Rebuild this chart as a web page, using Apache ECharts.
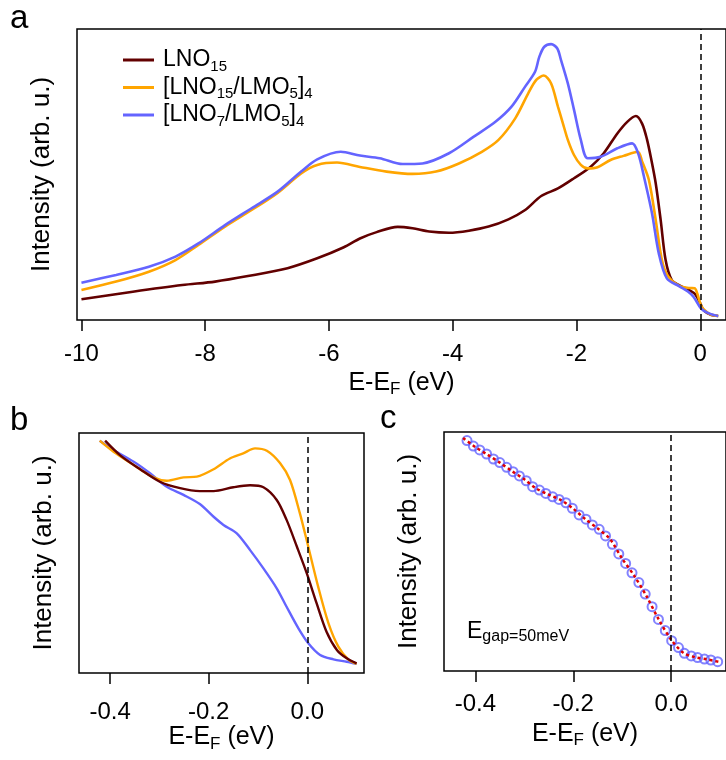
<!DOCTYPE html>
<html>
<head>
<meta charset="utf-8">
<script src="https://cdn.jsdelivr.net/npm/echarts@6.0.0/dist/echarts.min.js"></script>
<style>
html, body { margin: 0; padding: 0; background: #fff; }
#main { width: 726px; height: 760px; }
</style>
</head>
<body>
<div id="main"></div>
<script>
// panel a: wide energy range
var aLnoE = [-10.0, -9.17, -8.37, -7.84, -7.31, -6.67, -6.19, -5.76, -5.50, -5.23, -4.89, -4.65, -4.38, -4.06, -3.74, -3.42, -3.10, -2.83, -2.57, -2.30, -2.04, -1.77, -1.56, -1.34, -1.18, -1.04, -0.94, -0.86, -0.79, -0.72, -0.64, -0.56, -0.46, -0.33, -0.17, -0.08, 0.0, 0.06, 0.18, 0.29];
var aLnoI = [7.1, 9.7, 12.0, 13.2, 15.1, 17.8, 21.2, 25.0, 28.0, 30.2, 32.0, 31.5, 30.4, 30.0, 30.7, 32.1, 34.6, 37.8, 42.6, 45.2, 48.7, 52.7, 57.3, 64.1, 68.1, 70.1, 67.5, 62.0, 55.0, 47.0, 34.4, 20.6, 13.7, 11.8, 10.2, 8.8, 5.7, 3.2, 1.7, 1.4];

var aL15E = [-10.0, -9.44, -8.91, -8.48, -8.11, -7.68, -7.25, -6.83, -6.45, -6.19, -5.87, -5.50, -5.07, -4.65, -4.27, -3.90, -3.53, -3.26, -2.99, -2.78, -2.65, -2.53, -2.41, -2.30, -2.22, -2.14, -2.04, -1.93, -1.82, -1.66, -1.45, -1.24, -1.01, -0.94, -0.83, -0.72, -0.62, -0.52, -0.33, -0.17, -0.09, -0.05, 0.02, 0.10, 0.18, 0.29];
var aL15I = [10.3, 13.2, 16.6, 20.6, 25.8, 32.1, 37.8, 43.7, 50.4, 53.3, 54.1, 52.6, 51.0, 50.2, 51.0, 53.8, 57.8, 61.9, 69.3, 77.9, 82.5, 84.0, 81.3, 73.3, 67.6, 61.9, 56.7, 53.3, 52.1, 52.5, 55.0, 56.4, 57.8, 54.5, 48.1, 34.4, 20.6, 15.0, 11.6, 11.0, 10.9, 9.2, 4.6, 2.8, 1.8, 1.4];

var aL7E = [-10.0, -9.44, -8.91, -8.48, -8.11, -7.68, -7.25, -6.83, -6.45, -6.19, -5.81, -5.50, -5.18, -4.81, -4.49, -4.06, -3.66, -3.31, -3.05, -2.83, -2.67, -2.60, -2.52, -2.41, -2.31, -2.25, -2.14, -2.04, -1.93, -1.82, -1.61, -1.34, -1.10, -1.00, -0.91, -0.78, -0.67, -0.54, -0.33, -0.20, -0.11, 0.02, 0.15, 0.29];
var aL7I = [12.8, 15.5, 18.3, 21.8, 26.3, 32.6, 38.4, 44.1, 51.0, 55.2, 57.8, 56.5, 55.6, 53.6, 53.8, 57.3, 63.0, 68.1, 73.3, 80.2, 85.3, 90.5, 93.9, 94.8, 93.3, 89.3, 81.3, 72.2, 61.9, 55.6, 56.1, 59.0, 60.7, 57.0, 49.3, 36.7, 22.9, 14.3, 11.5, 9.8, 8.0, 3.8, 2.2, 1.4];

// panel b: near E_F
var bLnoE = [-0.410, -0.380, -0.339, -0.299, -0.258, -0.218, -0.190, -0.150, -0.116, -0.089, -0.062, -0.042, -0.021, -0.001, 0.019, 0.039, 0.060, 0.080, 0.100];
var bLnoI = [96.8, 90.8, 84.9, 79.7, 77.0, 75.8, 75.8, 77.4, 78.2, 77.4, 72.1, 63.8, 52.6, 41.5, 29.0, 17.2, 9.6, 6.1, 4.0];

var bL15E = [-0.421, -0.393, -0.352, -0.312, -0.285, -0.251, -0.224, -0.190, -0.157, -0.130, -0.106, -0.082, -0.055, -0.035, -0.015, 0.002, 0.022, 0.043, 0.063, 0.083, 0.100];
var bL15I = [96.8, 92.2, 86.7, 81.5, 80.1, 81.5, 81.8, 84.9, 89.4, 91.5, 93.6, 92.6, 87.4, 80.4, 66.5, 52.6, 36.0, 20.7, 11.0, 5.7, 3.8];

var bL7E = [-0.421, -0.393, -0.352, -0.319, -0.285, -0.251, -0.218, -0.190, -0.170, -0.143, -0.116, -0.089, -0.062, -0.042, -0.018, 0.002, 0.026, 0.053, 0.080, 0.100];
var bL7I = [96.8, 92.9, 88.0, 83.2, 77.6, 74.2, 70.4, 65.1, 61.7, 58.2, 51.2, 43.6, 35.3, 27.6, 18.6, 12.4, 7.5, 5.7, 4.7, 3.8];

// panel c: data points + gap fit
var cE = [-0.417, -0.404, -0.391, -0.377, -0.363, -0.350, -0.336, -0.323, -0.310, -0.296, -0.283, -0.269, -0.256, -0.242, -0.229, -0.215, -0.202, -0.188, -0.174, -0.161, -0.147, -0.134, -0.120, -0.107, -0.093, -0.080, -0.066, -0.053, -0.039, -0.026, -0.012, 0.001, 0.015, 0.027, 0.041, 0.054, 0.068, 0.081, 0.095];
var cI = [96.4, 94.1, 92.5, 90.8, 88.7, 87.2, 85.2, 83.4, 81.6, 79.6, 77.1, 75.7, 74.3, 72.9, 71.8, 70.4, 68.1, 65.3, 63.5, 61.1, 59.3, 56.5, 53.0, 49.0, 45.0, 41.1, 37.0, 32.2, 26.9, 21.6, 16.9, 12.7, 9.8, 7.4, 6.3, 5.6, 5.0, 4.6, 3.9];
var fitE = [-0.425, -0.400, -0.375, -0.350, -0.325, -0.300, -0.275, -0.250, -0.225, -0.200, -0.175, -0.150, -0.125, -0.100, -0.075, -0.050, -0.025, 0.000, 0.025, 0.050, 0.075, 0.100];
var fitI = [97.5, 93.7, 90.5, 87.2, 83.6, 80.2, 76.3, 73.8, 71.5, 67.9, 63.5, 59.6, 55.2, 47.0, 39.7, 31.2, 21.4, 13.1, 7.6, 5.7, 4.8, 3.7];

var aTicks = [-10, -8, -6, -4, -2, 0];
var bTicks = [-0.4, -0.2, 0.0];

var FONT = '"Liberation Sans", Arial, sans-serif';
var C_LNO = '#620000', C_L15 = '#ffa500', C_L7 = '#6464ff';

function pairs(xs, ys) {
    return xs.map(function (x, i) { return [x, ys[i]]; });
}

var titleRich = {
    m: { fontSize: 25, lineHeight: 30, color: '#000', fontFamily: FONT },
    s: { fontSize: 17, lineHeight: 18, verticalAlign: 'bottom', color: '#000', fontFamily: FONT }
};

function xAx(idx, min, max, ticks, digits, margin, gap) {
    return {
        gridIndex: idx, type: 'value', min: min, max: max,
        axisLine: { show: false },
        axisTick: { show: true, inside: false, length: 11, customValues: ticks, lineStyle: { color: '#000', width: 1.5 } },
        axisLabel: {
            customValues: ticks, margin: margin, fontSize: 24, color: '#000', fontFamily: FONT,
            formatter: function (v) { return v.toFixed(digits); }
        },
        splitLine: { show: false },
        name: '{m|E-E}{s|F}{m| (eV)}', nameLocation: 'middle', nameGap: gap,
        nameTextStyle: { rich: titleRich }
    };
}

function yAx(idx) {
    return {
        gridIndex: idx, type: 'value', min: 0, max: 100,
        axisLine: { show: false }, axisTick: { show: false }, axisLabel: { show: false },
        splitLine: { show: false },
        name: 'Intensity (arb. u.)', nameLocation: 'middle', nameGap: 22,
        nameTextStyle: { fontSize: 26, color: '#000', fontFamily: FONT }
    };
}

function zeroLine() {
    return {
        silent: true, symbol: ['none', 'none'], label: { show: false },
        lineStyle: { color: '#000', type: [6, 4], width: 1.5 },
        data: [{ xAxis: 0 }]
    };
}

function curve(name, idx, data, color, width, mark) {
    var s = {
        name: name, type: 'line', xAxisIndex: idx, yAxisIndex: idx,
        data: data, showSymbol: false, smooth: 0.3,
        itemStyle: { color: color }, lineStyle: { color: color, width: width }
    };
    if (mark) s.markLine = zeroLine();
    return s;
}

var legendText = {
    'LNO15': '{m|LNO}{s|15}',
    'LNO15/LMO5': '{m|[LNO}{s|15}{m|/LMO}{s|5}{m|]}{s|4}',
    'LNO7/LMO5': '{m|[LNO}{s|7}{m|/LMO}{s|5}{m|]}{s|4}'
};

var chart = echarts.init(document.getElementById('main'));
chart.setOption({
    animation: false,
    textStyle: { fontFamily: FONT },
    grid: [
        { left: 77, top: 29, width: 656, height: 291, show: true, borderColor: '#000', borderWidth: 1.5 },
        { left: 79, top: 433, width: 285, height: 240, show: true, borderColor: '#000', borderWidth: 1.5 },
        { left: 444, top: 432, width: 284, height: 239, show: true, borderColor: '#000', borderWidth: 1.5 }
    ],
    xAxis: [
        xAx(0, -10.072, 0.416, aTicks, 0, 22, 48),
        xAx(1, -0.463, 0.115, bTicks, 1, 27, 49),
        xAx(2, -0.464, 0.112, bTicks, 1, 21, 48)
    ],
    yAxis: [yAx(0), yAx(1), yAx(2)],
    legend: {
        left: 123, top: 48.5, orient: 'vertical', icon: 'rect', padding: 0,
        itemWidth: 31, itemHeight: 3, itemGap: 2, selectedMode: false,
        data: ['LNO15', 'LNO15/LMO5', 'LNO7/LMO5'],
        formatter: function (n) { return legendText[n]; },
        textStyle: {
            padding: [0, 0, 0, 4],
            rich: {
                m: { fontSize: 23, lineHeight: 28, color: '#000', fontFamily: FONT },
                s: { fontSize: 15, lineHeight: 14, verticalAlign: 'bottom', color: '#000', fontFamily: FONT }
            }
        }
    },
    graphic: [
        { type: 'text', left: 10, top: 2, style: { text: 'a', fontSize: 33, fill: '#000', fontFamily: FONT } },
        { type: 'text', left: 10, top: 404, style: { text: 'b', fontSize: 33, fill: '#000', fontFamily: FONT } },
        { type: 'text', left: 380, top: 402, style: { text: 'c', fontSize: 33, fill: '#000', fontFamily: FONT } },
        {
            type: 'text', x: 467, y: 632,
            style: {
                text: '{e|E}{g|gap}{r|=50meV}', verticalAlign: 'middle', fontFamily: FONT,
                rich: {
                    e: { fontSize: 23, lineHeight: 26, fill: '#000', fontFamily: FONT },
                    g: { fontSize: 16, lineHeight: 16, verticalAlign: 'bottom', fill: '#000', fontFamily: FONT },
                    r: { fontSize: 16, lineHeight: 21, verticalAlign: 'bottom', fill: '#000', fontFamily: FONT }
                }
            }
        }
    ],
    series: [
        curve('LNO15', 0, pairs(aLnoE, aLnoI), C_LNO, 2.6, true),
        curve('LNO15/LMO5', 0, pairs(aL15E, aL15I), C_L15, 2.6, false),
        curve('LNO7/LMO5', 0, pairs(aL7E, aL7I), C_L7, 2.6, false),
        curve('LNO7/LMO5', 1, pairs(bL7E, bL7I), C_L7, 2.4, true),
        curve('LNO15/LMO5', 1, pairs(bL15E, bL15I), C_L15, 2.4, false),
        curve('LNO15', 1, pairs(bLnoE, bLnoI), C_LNO, 2.4, false),
        {
            name: 'fit', type: 'line', xAxisIndex: 2, yAxisIndex: 2,
            data: pairs(fitE, fitI), showSymbol: false, smooth: 0.3,
            lineStyle: { color: '#e00000', width: 2.5, type: [3, 3] },
            markLine: zeroLine()
        },
        {
            name: 'data', type: 'scatter', xAxisIndex: 2, yAxisIndex: 2,
            data: pairs(cE, cI), symbol: 'circle', symbolSize: 9,
            itemStyle: { color: 'rgba(0,0,0,0)', borderColor: C_L7, borderWidth: 2 }
        }
    ]
});
</script>
</body>
</html>
